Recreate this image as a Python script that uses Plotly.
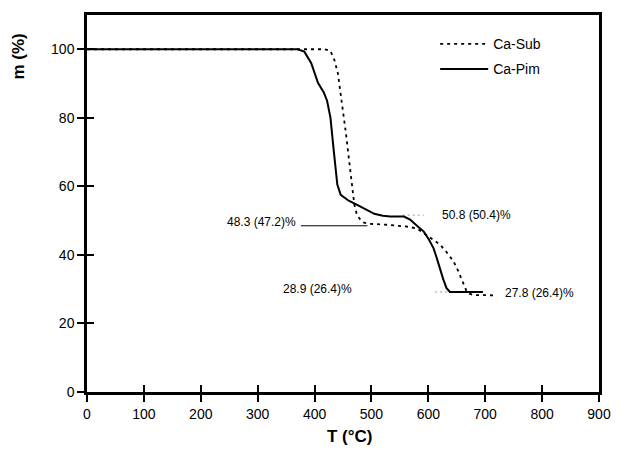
import plotly.graph_objects as go

# Ca-Pim (solid)
pim_T = [0, 370, 382, 394, 406, 416, 422, 428, 434, 440, 446, 460, 475, 490, 505, 520, 533, 557, 568, 580,
         592, 601, 609, 615, 620, 626, 632, 638, 696]
pim_m = [100, 100, 99.3, 96, 90.2, 87.5, 85, 80, 70, 60.5, 57.5, 55.8, 54.6, 53.3, 52, 51.4, 51.2, 51.2, 50.3, 48.5,
         46.8, 44.5, 42, 39, 36.1, 33, 30.3, 29.2, 29.2]

# Ca-Sub (dashed)
sub_T = [0, 418, 428, 435, 441, 446, 451, 455, 459, 463, 467, 470, 474, 479, 486, 493, 528, 545, 565, 580,
         595, 608, 620, 632, 644, 652, 658, 663, 667, 672, 679, 719]
sub_m = [100, 100, 99.5, 96.8, 93, 87.3, 81, 75.7, 70, 64.2, 58.5, 54.6, 52, 50.6, 49.5, 49.1, 48.8, 48.6, 48.2, 47.7,
         46, 44.3, 43.1, 40.8, 38.2, 35.5, 33.2, 31, 29.5, 28.7, 28.3, 28.2]

# reference lines
ref1_T = [376, 493]
ref1_m = [48.5, 48.5]
ref2_T = [555, 592]
ref2_m = [51.6, 51.6]
ref3_T = [612, 640]
ref3_m = [29.2, 29.2]

# labels
lab_text = ["48.3 (47.2)%", "50.8 (50.4)%", "28.9 (26.4)%", "27.8 (26.4)%"]
lab_T = [371, 620, 341, 731]
lab_m = [49.7, 51.7, 30.1, 28.9]
lab_anchor = ["right", "left", "left", "left"]

x_ticks = list(range(0, 901, 100))
y_ticks = list(range(0, 101, 20))

FONT = "Liberation Sans, Arial, sans-serif"

fig = go.Figure()
fig.add_trace(go.Scatter(x=ref1_T, y=ref1_m, mode="lines", line=dict(color="black", width=1),
                         showlegend=False, hoverinfo="skip"))
fig.add_trace(go.Scatter(x=ref2_T, y=ref2_m, mode="lines", line=dict(color="#999999", width=1, dash="2px,3px"),
                         showlegend=False, hoverinfo="skip"))
fig.add_trace(go.Scatter(x=ref3_T, y=ref3_m, mode="lines", line=dict(color="#999999", width=1, dash="2px,3px"),
                         showlegend=False, hoverinfo="skip"))
fig.add_trace(go.Scatter(x=sub_T, y=sub_m, mode="lines", name="Ca-Sub", legendgroup="a",
                         line=dict(color="black", width=1.8, dash="3px,4px")))
fig.add_trace(go.Scatter(x=pim_T, y=pim_m, mode="lines", name="Ca-Pim", legendgroup="b",
                         line=dict(color="black", width=2)))
fig.add_trace(go.Scatter(x=[], y=[], xaxis="x2", yaxis="y2", showlegend=False, hoverinfo="skip"))

for t, x, y, a in zip(lab_text, lab_T, lab_m, lab_anchor):
    fig.add_annotation(x=x, y=y, text=t, showarrow=False, xanchor=a, yanchor="middle",
                       font=dict(family=FONT, size=12, color="black"))

fig.add_annotation(xref="paper", yref="paper", x=-0.1335, y=0.889, text="<b>m (%)</b>", textangle=-90,
                   showarrow=False, xanchor="center", yanchor="middle",
                   font=dict(family=FONT, size=17, color="black"))
fig.add_annotation(xref="paper", yref="paper", x=0.513, y=-0.119, text="<b>T (°C)</b>",
                   showarrow=False, xanchor="center", yanchor="middle",
                   font=dict(family=FONT, size=17, color="black"))

axis_common = dict(showgrid=False, zeroline=False, ticks="outside", ticklen=7, tickwidth=2,
                   tickcolor="black", showline=True, linecolor="black", linewidth=2.5, mirror=True,
                   tickfont=dict(family=FONT, size=14, color="black"))

fig.update_layout(
    width=623, height=466,
    margin=dict(l=87, r=19, t=13, b=74),
    paper_bgcolor="white", plot_bgcolor="white",
    xaxis=dict(range=[0, 900], tickvals=x_ticks, **axis_common),
    yaxis=dict(range=[0, 110], tickvals=y_ticks, **axis_common),
    xaxis2=dict(range=[0, 900], tickvals=x_ticks, overlaying="x", anchor="y2", ticks="inside", ticklen=7,
                tickwidth=2, tickcolor="black", showticklabels=False, showline=False, showgrid=False,
                zeroline=False),
    yaxis2=dict(range=[0, 110], tickvals=y_ticks, overlaying="y", anchor="x2", ticks="inside", ticklen=7,
                tickwidth=2, tickcolor="black", showticklabels=False, showline=False, showgrid=False,
                zeroline=False),
    showlegend=True,
    legend=dict(x=0.68, y=0.965, xanchor="left", yanchor="top", bgcolor="rgba(0,0,0,0)",
                font=dict(family=FONT, size=14, color="black"), itemwidth=48, tracegroupgap=4),
)

fig.write_html("out.html")
